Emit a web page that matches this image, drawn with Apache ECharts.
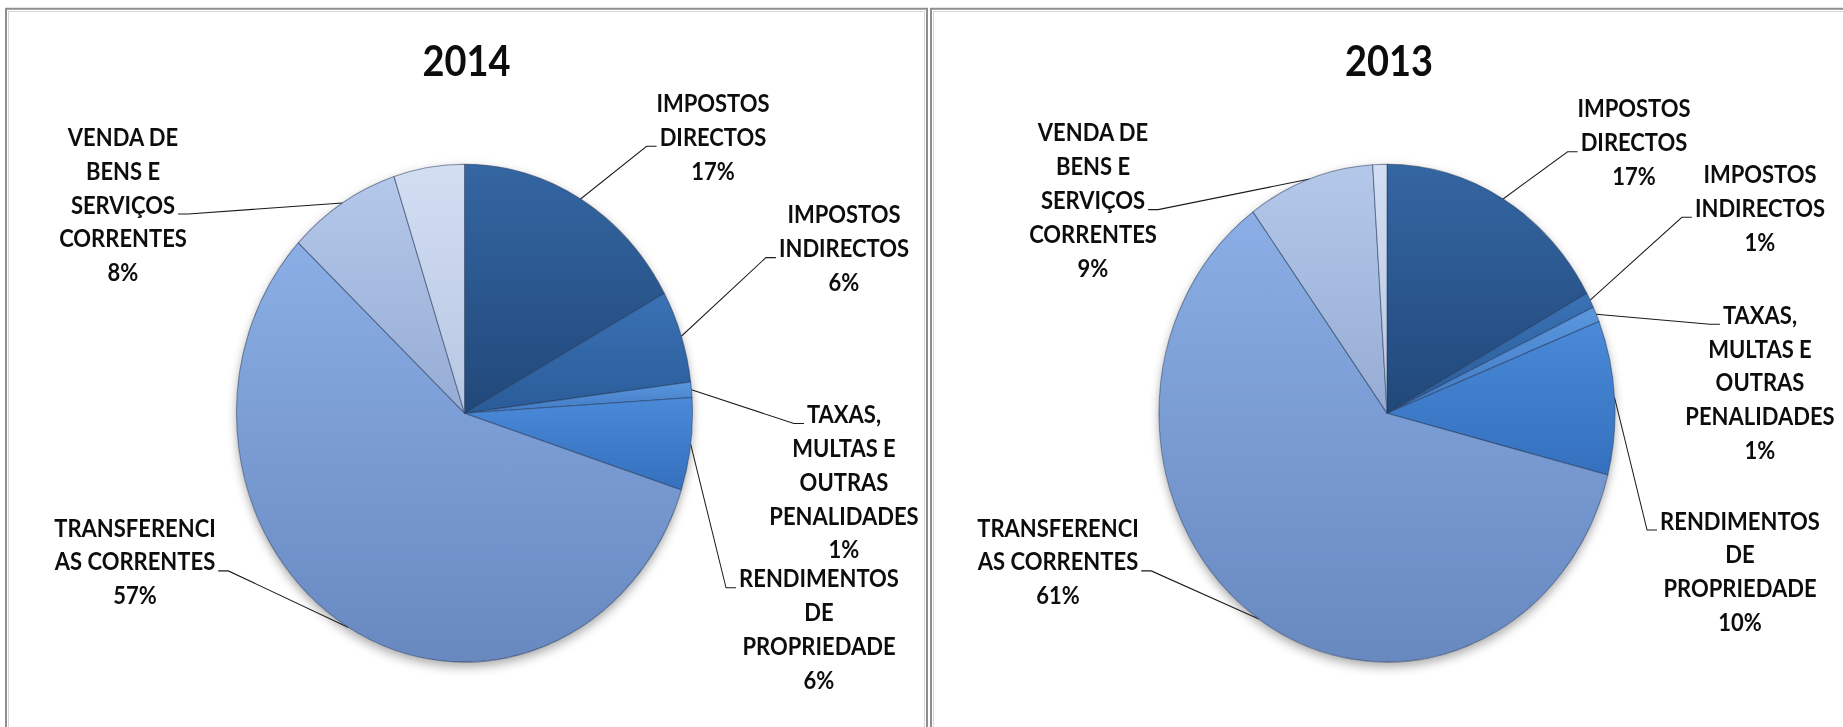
<!DOCTYPE html>
<html>
<head>
<meta charset="utf-8">
<script src="https://cdn.jsdelivr.net/npm/echarts@6/dist/echarts.min.js"></script>
<style>
  html, body { margin: 0; padding: 0; background: #fff; }
  body { width: 1843px; height: 727px; }
  #chart {
    width: 1843px;
    height: 666px;
    transform: scaleY(1.0916);
    transform-origin: 0 0;
  }
</style>
</head>
<body>
<div id="chart"></div>
<script>
const years = ["2014", "2013"];
const categories = [
  "IMPOSTOS DIRECTOS",
  "IMPOSTOS INDIRECTOS",
  "TAXAS, MULTAS E OUTRAS PENALIDADES",
  "RENDIMENTOS DE PROPRIEDADE",
  "TRANSFERENCIAS CORRENTES",
  "VENDA DE BENS E SERVIÇOS CORRENTES",
  "OUTRAS RECEITAS CORRENTES",
];
// label text as wrapped in the original (last slice has no label)
const labelNames = [
  "IMPOSTOS\nDIRECTOS",
  "IMPOSTOS\nINDIRECTOS",
  "TAXAS,\nMULTAS E\nOUTRAS\nPENALIDADES",
  "RENDIMENTOS\nDE\nPROPRIEDADE",
  "TRANSFERENCI\nAS CORRENTES",
  "VENDA DE\nBENS E\nSERVIÇOS\nCORRENTES",
  null,
];
const values2014 = [17, 6, 1, 6, 57, 8, 5];
const values2013 = [17, 1, 1, 10, 61, 9, 1];

const sliceColors = [
  ["#3466a2", "#21487a"],
  ["#3a72b6", "#2a5c98"],
  ["#5a97de", "#4079c2"],
  ["#4a8ad8", "#3470bd"],
  ["#8aaee5", "#6888c0"],
  ["#b4c8ea", "#97acd4"],
  ["#d3def2", "#b7c6e3"],
];

// label anchor positions (chart px, before the vertical stretch)
const labelPos = [
  [[713, 125], [844, 227], [844, 441], [819, 576], [135, 514], [123, 187]],
  [[1634, 130], [1760, 190], [1760, 350], [1740, 523], [1058, 514], [1093, 183]],
];
// which text line the leader line meets
const attachLine = [1, 1, 0, 0, 1, 2];
const centers = [[464.5, 378.5], [1387, 378.5]];
const radius = 228;
const FONT = "Lato";
const LABEL_SIZE = 22;
const LINE_H = 31;

const measureCtx = document.createElement("canvas").getContext("2d");
measureCtx.font = `bold ${LABEL_SIZE}px ${FONT}`;

const chart = echarts.init(document.getElementById("chart"), null, { renderer: "svg" });

const buildData = (values) =>
  values.map((v, i) => ({
    name: categories[i],
    value: v,
    itemStyle: {
      color: {
        type: "linear", x: 0, y: 0, x2: 0, y2: 1,
        colorStops: [
          { offset: 0, color: sliceColors[i][0] },
          { offset: 1, color: sliceColors[i][1] },
        ],
      },
    },
    label: { show: labelNames[i] != null },
    labelLine: { show: labelNames[i] != null },
  }));

const pieSeries = [values2014, values2013].map((vals, s) => ({
  type: "pie",
  center: centers[s],
  radius: radius,
  startAngle: 90,
  clockwise: true,
  animation: false,
  silent: true,
  avoidLabelOverlap: false,
  z: 2,
  data: buildData(vals),
  itemStyle: { borderColor: "rgba(35,55,90,0.55)", borderWidth: 1 },
  label: {
    position: "outside",
    formatter: (p) => `${labelNames[p.dataIndex]}\n${p.value}%`,
    color: "#0d0d0d",
    fontFamily: FONT,
    fontWeight: "bold",
    fontSize: LABEL_SIZE,
    lineHeight: LINE_H,
    align: "center",
  },
  labelLine: { length: 30, length2: 10, lineStyle: { color: "#1a1a1a", width: 1 } },
  labelLayout: (params) => {
    const i = params.dataIndex;
    const p = labelPos[s][i];
    if (!p) return {};
    const lines = [...labelNames[i].split("\n"), `${vals[i]}%`];
    const top = p[1] - (lines.length * LINE_H) / 2;
    const k = attachLine[i];
    const side = p[0] > centers[s][0] ? -1 : 1;
    const w = measureCtx.measureText(lines[k]).width;
    const endX = p[0] + side * (w / 2 + 3);
    const endY = top + k * LINE_H + LINE_H / 2 + 9;
    const out = { x: p[0], y: p[1], align: "center", verticalAlign: "middle" };
    const pts = params.labelLinePoints;
    if (pts && pts.length) {
      out.labelLinePoints = [pts[0], [endX + side * 10, endY], [endX, endY]];
    }
    return out;
  },
}));

// soft shadow under each pie
const shadowSeries = centers.map((c) => ({
  type: "pie",
  center: c,
  radius: radius,
  silent: true,
  animation: false,
  z: 1,
  label: { show: false },
  labelLine: { show: false },
  data: [{ value: 1, itemStyle: { color: "#fff", shadowBlur: 10, shadowOffsetY: 4, shadowColor: "rgba(0,0,0,0.35)" } }],
}));

const panelBorder = (x, w) => [
  { type: "rect", shape: { x: x, y: 8, width: w, height: 720 }, style: { fill: "none", stroke: "#8e8e8e", lineWidth: 2 }, silent: true },
  { type: "rect", shape: { x: x + 2.5, y: 10.5, width: w - 5, height: 720 }, style: { fill: "none", stroke: "#d6d6d6", lineWidth: 1 }, silent: true },
];

chart.setOption({
  backgroundColor: "#fff",
  title: years.map((y, i) => ({
    text: y,
    left: centers[i][0] + 2,
    top: 36,
    textAlign: "center",
    padding: 0,
    textStyle: { fontFamily: FONT, fontWeight: "bold", fontSize: 38, color: "#0d0d0d" },
  })),
  graphic: [...panelBorder(6, 921), ...panelBorder(931, 960)],
  series: [...pieSeries, ...shadowSeries],
});
</script>
</body>
</html>
